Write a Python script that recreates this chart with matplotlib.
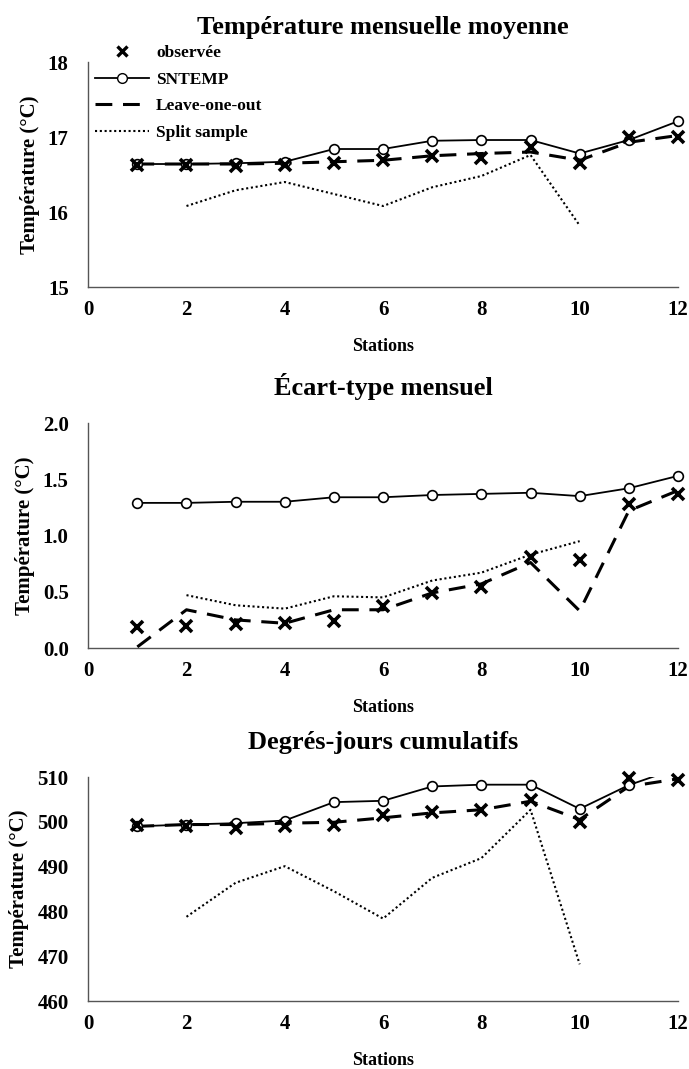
import numpy as np
import matplotlib
matplotlib.use("Agg")
import matplotlib.pyplot as plt
from matplotlib.lines import Line2D

plt.rcParams['font.family'] = ['Liberation Serif', 'DejaVu Serif']
plt.rcParams['font.weight'] = 'bold'

stations = np.arange(1, 13)
stations_split = np.arange(2, 11)

# Température mensuelle moyenne
moy_obs = [16.63, 16.63, 16.62, 16.63, 16.66, 16.70, 16.75, 16.72, 16.87, 16.66, 17.00, 17.00]
moy_sntemp = [16.64, 16.64, 16.65, 16.67, 16.84, 16.84, 16.95, 16.96, 16.96, 16.78, 16.96, 17.21]
moy_loo = [16.64, 16.64, 16.64, 16.65, 16.67, 16.69, 16.75, 16.78, 16.80, 16.69, 16.93, 17.02]
moy_split = [16.08, 16.29, 16.40, 16.24, 16.08, 16.33, 16.48, 16.76, 15.82]

# Écart-type mensuel
ect_obs = [0.19, 0.20, 0.21, 0.22, 0.24, 0.37, 0.49, 0.54, 0.81, 0.78, 1.28, 1.37]
ect_sntemp = [1.29, 1.29, 1.30, 1.30, 1.34, 1.34, 1.36, 1.37, 1.38, 1.35, 1.42, 1.53]
ect_loo = [0.01, 0.34, 0.25, 0.22, 0.34, 0.34, 0.49, 0.57, 0.76, 0.33, 1.22, 1.40]
ect_split = [0.47, 0.38, 0.35, 0.46, 0.45, 0.60, 0.67, 0.83, 0.95]

# Degrés-jours cumulatifs
dj_obs = [499.4, 499.0, 498.6, 499.0, 499.4, 501.6, 502.1, 502.6, 504.9, 499.9, 509.8, 509.3]
dj_sntemp = [499.0, 499.4, 499.7, 500.3, 504.4, 504.7, 507.9, 508.3, 508.3, 502.9, 508.2, 512.0]
dj_loo = [499.0, 499.4, 499.4, 499.7, 499.9, 500.9, 502.0, 502.7, 504.6, 500.5, 507.9, 509.6]
dj_split = [478.8, 486.4, 490.1, 484.5, 478.4, 487.5, 491.9, 502.7, 468.2]

panels = [
    ("Température mensuelle moyenne", moy_obs, moy_sntemp, moy_loo, moy_split,
     (15, 18), [15, 16, 17, 18], "{:.0f}"),
    ("Écart-type mensuel", ect_obs, ect_sntemp, ect_loo, ect_split,
     (0, 2), [0, 0.5, 1.0, 1.5, 2.0], "{:.1f}"),
    ("Degrés-jours cumulatifs", dj_obs, dj_sntemp, dj_loo, dj_split,
     (460, 510), [460, 470, 480, 490, 500, 510], "{:.0f}"),
]

dash = (0, (5.5, 3.5))
dot = (0, (1, 1.3))

fig = plt.figure(figsize=(6.89, 10.69), dpi=100)
boxes = [[0.128, 0.7315, 0.856, 0.2105],
         [0.128, 0.3938, 0.856, 0.2105],
         [0.128, 0.0636, 0.856, 0.2095]]

for box, (title, obs, snt, loo, split, ylim, yticks, fmt) in zip(boxes, panels):
    ax = fig.add_axes(box)
    ax.plot(stations_split, split, color='black', ls=dot, lw=1.5, clip_on=False)
    ax.plot(stations, loo, color='black', ls=dash, lw=2.2, clip_on=False)
    clip = title.startswith("Degr")
    ax.plot(stations, snt, color='black', lw=1.3, marker='o', ms=7,
            mfc='white', mec='black', mew=1.2, clip_on=clip)
    ax.plot(stations, obs, ls='none', marker='x', ms=9, mew=2.6,
            color='black', clip_on=False)
    ax.set_xlim(0, 12)
    ax.set_ylim(*ylim)
    ax.set_xticks(range(0, 13, 2))
    ax.set_yticks(yticks)
    ax.set_yticklabels([fmt.format(v) for v in yticks])
    ax.tick_params(length=0, labelsize=15)
    ax.tick_params(axis='x', pad=9)
    ax.tick_params(axis='y', pad=14)
    for s in ['top', 'right']:
        ax.spines[s].set_visible(False)
    for s in ['left', 'bottom']:
        ax.spines[s].set_color('#555555')
        ax.spines[s].set_linewidth(1.0)
    ax.set_title(title, fontsize=19, fontweight='bold', pad=20)
    ax.set_xlabel("Stations", fontsize=13, fontweight='bold', labelpad=13)
    ax.set_ylabel("Température (°C)", fontsize=15, fontweight='bold', labelpad=6)

handles = [
    Line2D([], [], ls='none', marker='x', ms=7, mew=2.4, color='black'),
    Line2D([], [], color='black', lw=1.3, marker='o', ms=7, mfc='white', mec='black'),
    Line2D([], [], color='black', ls=dash, lw=2.2),
    Line2D([], [], color='black', ls=dot, lw=1.5),
]
labels = ["observée", "SNTEMP", "Leave-one-out", "Split sample"]
fig.legend(handles, labels, loc='upper left', bbox_to_anchor=(0.128, 0.9645),
           frameon=False, fontsize=12.5, handlelength=3.1, labelspacing=0.6,
           handletextpad=0.4, borderaxespad=0)

fig.savefig("out.png", dpi=100)
